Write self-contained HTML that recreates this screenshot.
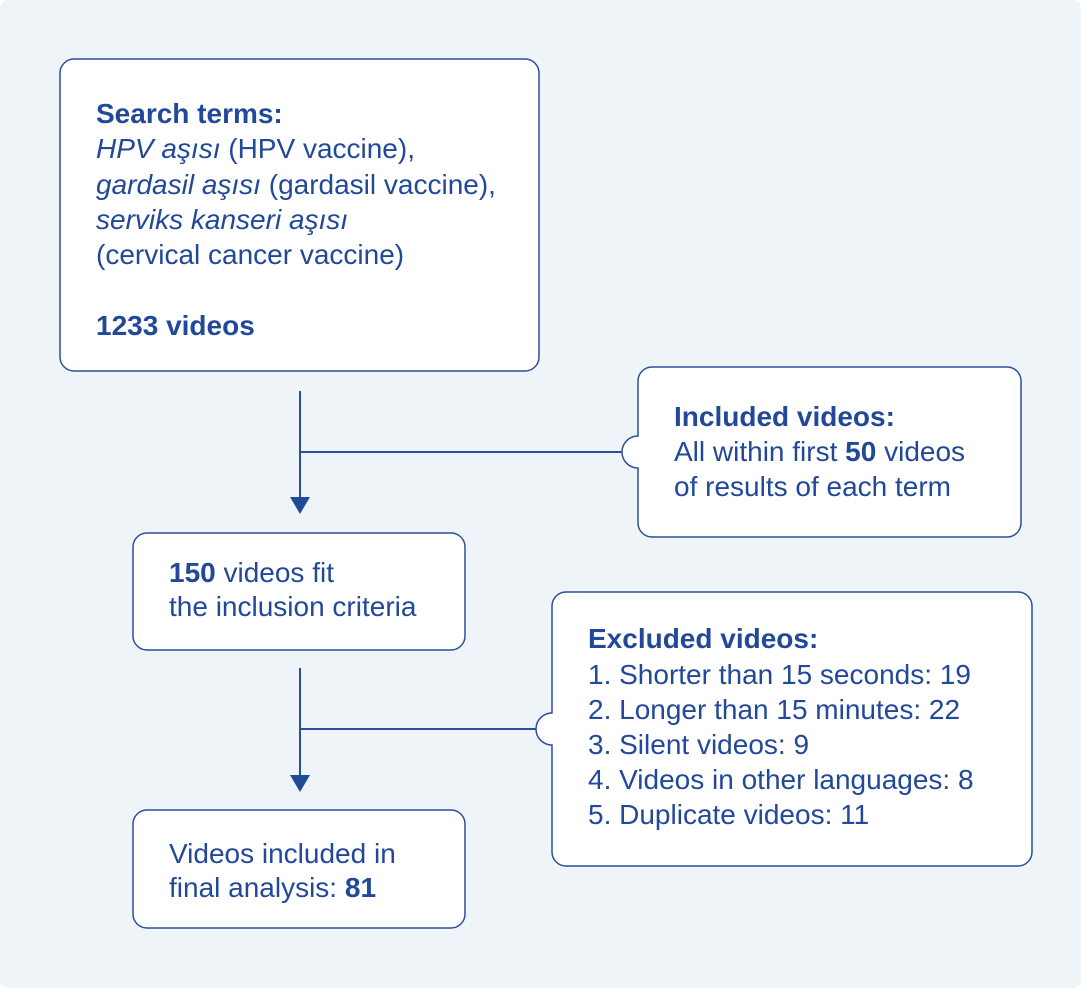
<!DOCTYPE html>
<html><head><meta charset="utf-8"><style>
html,body{margin:0;padding:0;background:#fff}
svg{display:block}
text{font-family:"Liberation Sans",sans-serif;font-size:28px;fill:#22489a}
.b{font-weight:bold}
</style></head><body>
<svg width="1081" height="988" viewBox="0 0 1081 988">
<rect x="0" y="0" width="1081" height="988" rx="8" fill="#eff4f8"/>
<g fill="#fff" stroke="#2a4f9c" stroke-width="1.5">
<rect x="60" y="59" width="479" height="312" rx="14"/>
<path d="M652,367 H1007 A14 14 0 0 1 1021 381 V523 A14 14 0 0 1 1007 537 H652 A14 14 0 0 1 638 523 V468 A16 16 0 0 1 638 436 V381 A14 14 0 0 1 652 367 Z"/>
<rect x="133" y="533" width="332" height="117" rx="14"/>
<path d="M566,592 H1018 A14 14 0 0 1 1032 606 V852 A14 14 0 0 1 1018 866 H566 A14 14 0 0 1 552 852 V745 A16 16 0 0 1 552 713 V606 A14 14 0 0 1 566 592 Z"/>
<rect x="133" y="810" width="332" height="118" rx="14"/>
</g>
<g stroke="#2a4f9c" stroke-width="2" fill="none">
<line x1="300" y1="391" x2="300" y2="498"/>
<line x1="300" y1="452" x2="622" y2="452"/>
<line x1="300" y1="668" x2="300" y2="776"/>
<line x1="300" y1="729" x2="536" y2="729"/>
</g>
<g fill="#22489a">
<polygon points="290,497 310,497 300,514"/>
<polygon points="290,775 310,775 300,792"/>
</g>
<text x="96" y="123" class="b" font-size="27">Search terms:</text>
<text x="96" y="158"><tspan font-style="italic">HPV aşısı</tspan> (HPV vaccine),</text>
<text x="96" y="194"><tspan font-style="italic">gardasil aşısı</tspan> (gardasil vaccine),</text>
<text x="96" y="229" font-style="italic">serviks kanseri aşısı</text>
<text x="96" y="264">(cervical cancer vaccine)</text>
<text x="96" y="335" class="b" font-size="27">1233 videos</text>
<text x="674" y="426" class="b" font-size="27">Included videos:</text>
<text x="674" y="461">All within first <tspan class="b">50</tspan> videos</text>
<text x="674" y="496">of results of each term</text>
<text x="169" y="582"><tspan class="b">150</tspan> videos fit</text>
<text x="169" y="616">the inclusion criteria</text>
<text x="588" y="648" class="b" font-size="27">Excluded videos:</text>
<text x="588" y="684">1. Shorter than 15 seconds: 19</text>
<text x="588" y="719">2. Longer than 15 minutes: 22</text>
<text x="588" y="754">3. Silent videos: 9</text>
<text x="588" y="789">4. Videos in other languages: 8</text>
<text x="588" y="824">5. Duplicate videos: 11</text>
<text x="169" y="863">Videos included in</text>
<text x="169" y="897">final analysis: <tspan class="b">81</tspan></text>
</svg>
</body></html>
